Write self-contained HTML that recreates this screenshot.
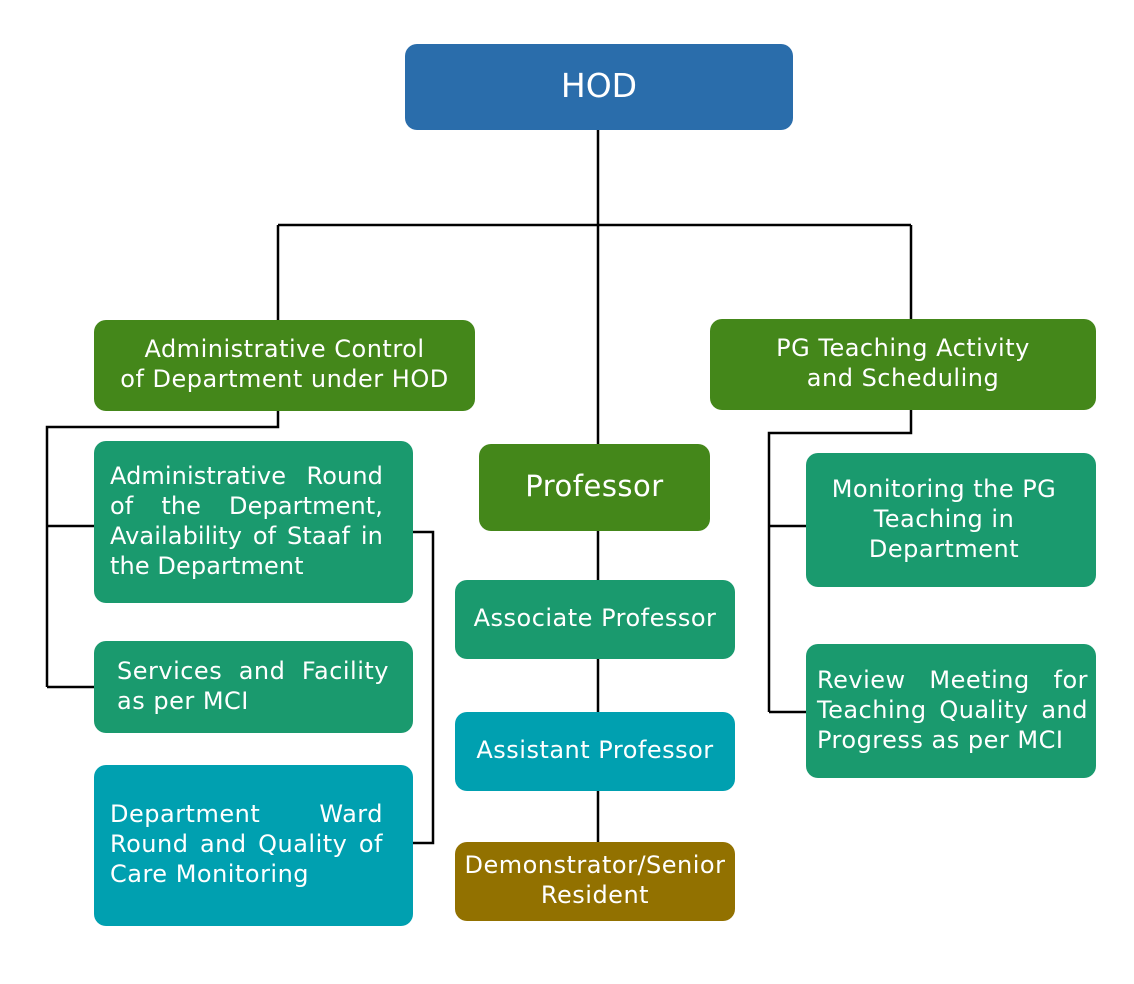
<!DOCTYPE html>
<html><head><meta charset="utf-8"><style>
body{margin:0;width:1134px;height:984px;background:#fff;position:relative;overflow:hidden;font-family:"DejaVu Sans","Liberation Sans",sans-serif;}
.b{position:absolute;color:#fff;border-radius:12px;box-sizing:border-box;display:flex;align-items:center;justify-content:center;text-align:center;font-size:24px;letter-spacing:0.5px;line-height:30px;padding-bottom:3px;}
.j{text-align:justify;text-align-last:left;justify-content:flex-start;padding:0 30px 3px 16px;}
.j div{width:100%}
svg{position:absolute;left:0;top:0}
</style></head><body>
<svg width="1134" height="984">
<g stroke="#000" stroke-width="2.5" fill="none">
<path d="M598 130V444M278 225H911M278 225V320M911 225V319"/>
<path d="M278 411V427H47V687M47 526H94M47 687H94"/>
<path d="M413 532H433V843H413"/>
<path d="M598 531V842"/>
<path d="M911 410V433H769V712M769 526H806M769 712H806"/>
</g>
</svg>
<div class="b" style="left:405px;top:44px;width:388px;height:86px;background:#2a6dab;font-size:33px;letter-spacing:0;">HOD</div>
<div class="b" style="left:94px;top:320px;width:381px;height:91px;background:#44871a;">Administrative Control<br>of Department under HOD</div>
<div class="b" style="left:710px;top:319px;width:386px;height:91px;background:#44871a;">PG Teaching Activity<br>and Scheduling</div>
<div class="b" style="left:479px;top:444px;width:231px;height:87px;background:#44871a;font-size:29px;">Professor</div>
<div class="b j" style="left:94px;top:441px;width:319px;height:162px;background:#1a9a6e;letter-spacing:0.1px;"><div>Administrative Round of the Department, Availability of Staaf in the Department</div></div>
<div class="b j" style="left:94px;top:641px;width:319px;height:92px;background:#1a9a6e;padding-left:23px;padding-right:24px;"><div>Services and Facility as per MCI</div></div>
<div class="b j" style="left:94px;top:765px;width:319px;height:161px;background:#00a0b0;"><div>Department Ward Round and Quality of Care Monitoring</div></div>
<div class="b" style="left:455px;top:580px;width:280px;height:79px;background:#1a9a6e;">Associate Professor</div>
<div class="b" style="left:455px;top:712px;width:280px;height:79px;background:#00a0b0;">Assistant Professor</div>
<div class="b" style="left:455px;top:842px;width:280px;height:79px;background:#927100;">Demonstrator/Senior<br>Resident</div>
<div class="b" style="left:806px;top:453px;width:290px;height:134px;background:#1a9a6e;padding-right:14px;">Monitoring the PG<br>Teaching in<br>Department</div>
<div class="b j" style="left:806px;top:644px;width:290px;height:134px;background:#1a9a6e;padding:0 8px 3px 11px;"><div>Review Meeting for Teaching Quality and Progress as per MCI</div></div>
</body></html>
